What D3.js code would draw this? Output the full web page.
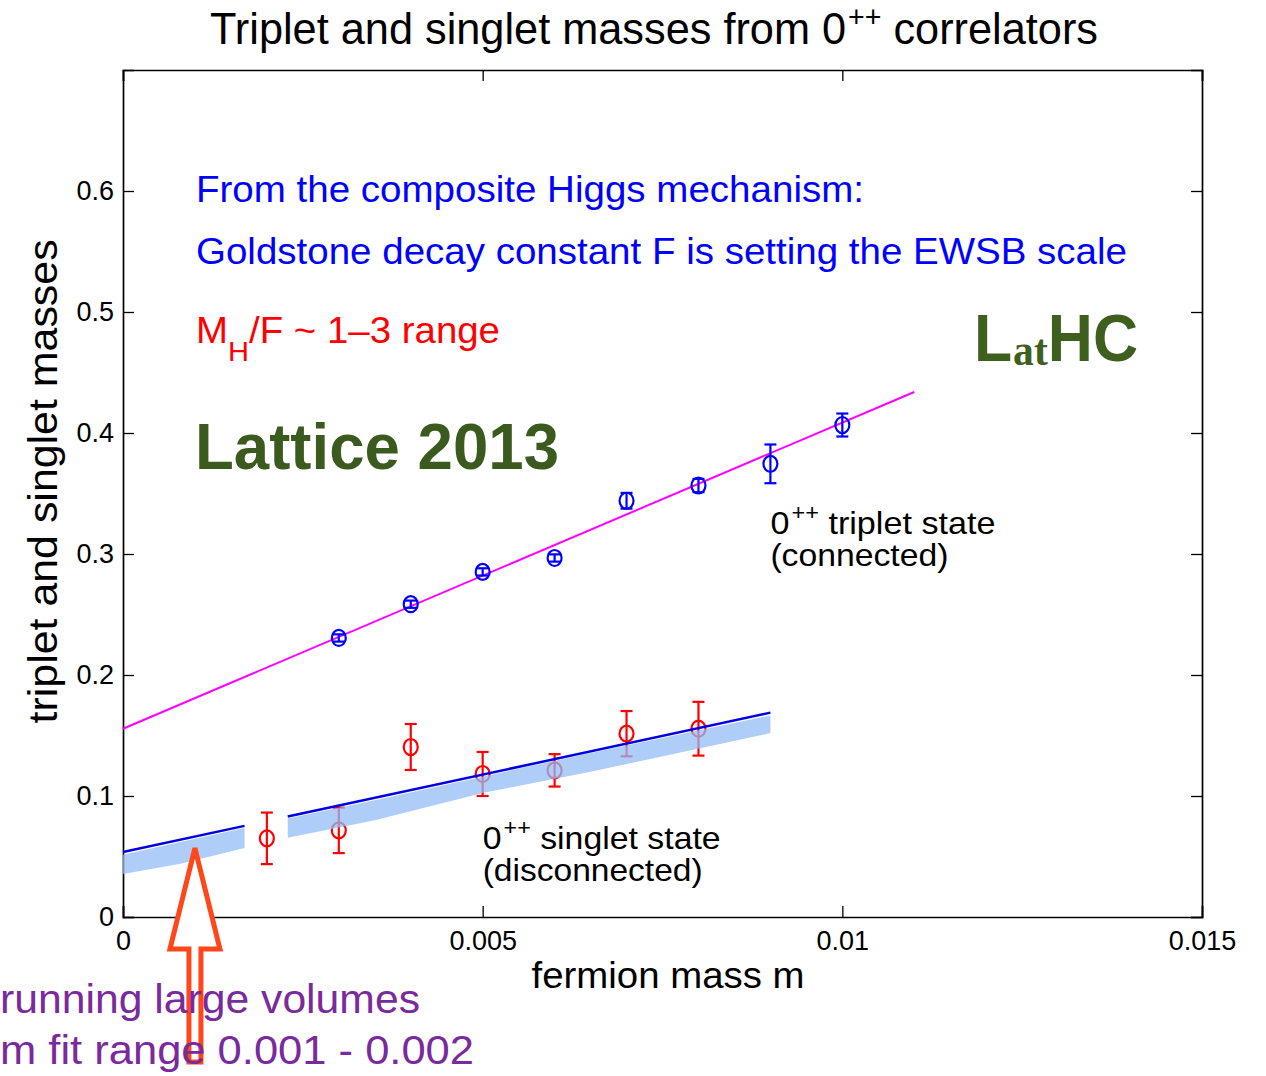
<!DOCTYPE html>
<html>
<head>
<meta charset="utf-8">
<script src="https://cdn.jsdelivr.net/npm/d3@7"></script>
<style>
  body { margin: 0; background: #fff; }
  svg { display: block; }
  text { font-family: "Liberation Sans", Arial, sans-serif; }
</style>
</head>
<body>
<div id="chart"></div>
<script>
// fermion mass values
const tripletM = [0.003, 0.004, 0.005, 0.006, 0.007, 0.008, 0.009, 0.010];
const tripletMass = [0.2306, 0.2585, 0.2852, 0.2967, 0.3440, 0.3566, 0.3745, 0.4066];
const tripletErr = [0.003, 0.003, 0.003, 0.003, 0.0065, 0.0055, 0.016, 0.0095];

const singletM = [0.002, 0.003, 0.004, 0.005, 0.006, 0.007, 0.008];
const singletMass = [0.0650, 0.0716, 0.1405, 0.1182, 0.1212, 0.1515, 0.1556];
const singletErr = [0.0213, 0.0188, 0.019, 0.0182, 0.0134, 0.0187, 0.0222];

// linear fits (end points)
const tripletFitM = [0, 0.011];
const tripletFitY = [0.1556, 0.4339];
const singletFitM = [[0, 0.00169], [0.00229, 0.009]];
const singletFitY = [[0.0537, 0.0753], [0.0830, 0.1689]];
// light blue band of fits below the singlet line
const bandM = [[0, 0.0008, 0.00169], [0.00229, 0.0035, 0.005, 0.0065, 0.009]];
const bandUpper = [[0.0515, 0.0620, 0.0735], [0.0815, 0.0965, 0.1160, 0.1355, 0.1665]];
const bandLower = [[0.0355, 0.0440, 0.0570], [0.0655, 0.0800, 0.1025, 0.1200, 0.1520]];

const xTicks = [0, 0.005, 0.01, 0.015];
const xTickLabels = ['0', '0.005', '0.01', '0.015'];
const yTicks = [0, 0.1, 0.2, 0.3, 0.4, 0.5, 0.6];
const yTickLabels = ['0', '0.1', '0.2', '0.3', '0.4', '0.5', '0.6'];

const width = 1266, height = 1076;
const svg = d3.select('#chart').append('svg')
    .attr('width', width)
    .attr('height', height);

const x = d3.scaleLinear().domain([0, 0.015]).range([123, 1202]);
const y = d3.scaleLinear().domain([0, 0.7]).range([917, 70]);

// title
const title = svg.append('text')
    .attr('x', 210).attr('y', 44)
    .attr('font-size', 44)
    .attr('textLength', 888).attr('lengthAdjust', 'spacingAndGlyphs')
    .attr('fill', '#000');
title.append('tspan').text('Triplet and singlet masses from 0');
title.append('tspan').attr('dx', 2).attr('dy', -17).attr('font-size', 29).text('++');
title.append('tspan').attr('dy', 17).text(' correlators');

// axes box with inward ticks
const tickLen = 11;
const axisG = svg.append('g');
axisG.append('g')
    .attr('transform', `translate(0,${y(0)})`)
    .call(d3.axisBottom(x).tickValues(xTicks).tickSize(-tickLen).tickFormat((d, i) => xTickLabels[i]).tickPadding(14));
axisG.append('g')
    .attr('transform', `translate(0,${y(0.7)})`)
    .call(d3.axisTop(x).tickValues(xTicks).tickSize(-tickLen).tickFormat(''));
axisG.append('g')
    .attr('transform', `translate(${x(0)},0)`)
    .call(d3.axisLeft(y).tickValues(yTicks).tickSize(-tickLen).tickFormat((d, i) => yTickLabels[i]).tickPadding(9));
axisG.append('g')
    .attr('transform', `translate(${x(0.015)},0)`)
    .call(d3.axisRight(y).tickValues(yTicks).tickSize(-tickLen).tickFormat(''));
axisG.selectAll('.domain').attr('stroke', '#000').attr('stroke-width', 1.7);
axisG.selectAll('.tick line').attr('stroke', '#000').attr('stroke-width', 1.3);
axisG.selectAll('.tick text')
    .attr('font-family', '"Liberation Sans", Arial, sans-serif')
    .attr('font-size', 27)
    .attr('fill', '#000');

// axis labels
svg.append('text')
    .attr('x', 668).attr('y', 988)
    .attr('text-anchor', 'middle')
    .attr('font-size', 37)
    .attr('textLength', 273).attr('lengthAdjust', 'spacingAndGlyphs')
    .text('fermion mass m');
svg.append('text')
    .attr('transform', `translate(57,${y(0.36)}) rotate(-90)`)
    .attr('text-anchor', 'middle')
    .attr('font-size', 40)
    .attr('textLength', 484).attr('lengthAdjust', 'spacingAndGlyphs')
    .text('triplet and singlet masses');

// triplet fit line
svg.append('line')
    .attr('x1', x(tripletFitM[0])).attr('y1', y(tripletFitY[0]))
    .attr('x2', x(tripletFitM[1])).attr('y2', y(tripletFitY[1]))
    .attr('stroke', '#ff00ff')
    .attr('stroke-width', 2);

// error bar helper
const drawPoints = (ms, vals, errs, color) => {
    const g = svg.append('g').attr('stroke', color).attr('fill', 'none').attr('stroke-width', 2.2);
    const pts = g.selectAll('g').data(ms).join('g');
    pts.append('line')
        .attr('x1', d => x(d)).attr('x2', d => x(d))
        .attr('y1', (d, i) => y(vals[i] - errs[i]))
        .attr('y2', (d, i) => y(vals[i] + errs[i]));
    pts.append('line')
        .attr('x1', d => x(d) - 6).attr('x2', d => x(d) + 6)
        .attr('y1', (d, i) => y(vals[i] - errs[i]))
        .attr('y2', (d, i) => y(vals[i] - errs[i]));
    pts.append('line')
        .attr('x1', d => x(d) - 6).attr('x2', d => x(d) + 6)
        .attr('y1', (d, i) => y(vals[i] + errs[i]))
        .attr('y2', (d, i) => y(vals[i] + errs[i]));
    pts.append('ellipse')
        .attr('cx', d => x(d))
        .attr('cy', (d, i) => y(vals[i]))
        .attr('rx', 7).attr('ry', 8);
};

drawPoints(tripletM, tripletMass, tripletErr, '#0000ff');
drawPoints(singletM, singletMass, singletErr, '#ff0000');

// band
const area = d3.area()
    .x(d => x(d.m))
    .y0(d => y(d.lo))
    .y1(d => y(d.hi));
bandM.forEach((seg, s) => {
    const pts = seg.map((m, i) => ({ m, lo: bandLower[s][i], hi: bandUpper[s][i] }));
    svg.append('path')
        .attr('d', area(pts))
        .attr('fill', '#93bcf5')
        .attr('fill-opacity', 0.75);
});

// singlet fit line
singletFitM.forEach((seg, s) => {
    svg.append('line')
        .attr('x1', x(seg[0])).attr('y1', y(singletFitY[s][0]))
        .attr('x2', x(seg[1])).attr('y2', y(singletFitY[s][1]))
        .attr('stroke', '#0000e0')
        .attr('stroke-width', 2.5);
});

// state labels
const stateLabel = (m, v, line1, line2, w1, w2) => {
    const t = svg.append('text').attr('x', x(m)).attr('y', y(v)).attr('font-size', 32)
        .attr('textLength', w1).attr('lengthAdjust', 'spacingAndGlyphs');
    t.append('tspan').text('0');
    t.append('tspan').attr('dx', 2).attr('dy', -14).attr('font-size', 22).text('++');
    t.append('tspan').attr('dy', 14).text(' ' + line1);
    svg.append('text').attr('x', x(m)).attr('y', y(v) + 32).attr('font-size', 32)
        .attr('textLength', w2).attr('lengthAdjust', 'spacingAndGlyphs')
        .text(line2);
};
stateLabel(0.00900, 0.3165, 'triplet state', '(connected)', 225, 178);
stateLabel(0.00500, 0.0565, 'singlet state', '(disconnected)', 238, 220);

// blue / red text
svg.append('text')
    .attr('x', 196).attr('y', 202)
    .attr('font-size', 37).attr('fill', '#0000ff')
    .attr('textLength', 668).attr('lengthAdjust', 'spacingAndGlyphs')
    .text('From the composite Higgs mechanism:');
svg.append('text')
    .attr('x', 196).attr('y', 264)
    .attr('font-size', 37).attr('fill', '#0000ff')
    .attr('textLength', 931).attr('lengthAdjust', 'spacingAndGlyphs')
    .text('Goldstone decay constant F is setting the EWSB scale');
const red = svg.append('text')
    .attr('x', 196).attr('y', 343)
    .attr('font-size', 37).attr('fill', '#ff0000')
    .attr('textLength', 304).attr('lengthAdjust', 'spacingAndGlyphs');
red.append('tspan').text('M');
red.append('tspan').attr('dy', 18).attr('font-size', 28).text('H');
red.append('tspan').attr('dy', -18).text('/F ~ 1\u20133 range');

// Lattice 2013
svg.append('text')
    .attr('x', 195).attr('y', 469)
    .attr('font-size', 64).attr('font-weight', 'bold')
    .attr('fill', '#3b5a1e')
    .attr('textLength', 364).attr('lengthAdjust', 'spacingAndGlyphs')
    .text('Lattice 2013');

// LatHC logo
const logo = svg.append('text')
    .attr('x', 974).attr('y', 361)
    .attr('fill', '#3f5f1f')
    .attr('font-family', 'Lato, "Open Sans", sans-serif')
    .attr('font-size', 66)
    .attr('textLength', 164).attr('lengthAdjust', 'spacingAndGlyphs');
logo.append('tspan').attr('font-weight', 'bold').text('L');
logo.append('tspan').attr('dx', 1).attr('dy', 4).attr('font-size', 44)
    .attr('font-family', '"Liberation Serif", serif').attr('font-weight', 'bold').text('at');
logo.append('tspan').attr('dy', -4).attr('font-weight', 'bold').text('HC');

// arrow pointing at the small-mass band
const tipX = x(0.001), tipY = y(0.057);
const arrowPath = d3.path();
arrowPath.moveTo(tipX, tipY);
arrowPath.lineTo(tipX + 25, tipY + 101);
arrowPath.lineTo(tipX + 6, tipY + 101);
arrowPath.lineTo(tipX + 6, tipY + 214);
arrowPath.lineTo(tipX - 6, tipY + 214);
arrowPath.lineTo(tipX - 6, tipY + 101);
arrowPath.lineTo(tipX - 25, tipY + 101);
arrowPath.closePath();
svg.append('path')
    .attr('d', arrowPath.toString())
    .attr('fill', '#fff')
    .attr('stroke', '#ff4719')
    .attr('stroke-width', 5)
    .attr('stroke-linejoin', 'miter');

// purple text at the bottom (drawn over the arrow shaft)
svg.append('text')
    .attr('x', 0).attr('y', 1013)
    .attr('font-family', 'Lato, sans-serif')
    .attr('font-size', 41).attr('fill', '#7a2a9c')
    .attr('textLength', 420).attr('lengthAdjust', 'spacingAndGlyphs')
    .text('running large volumes');
svg.append('text')
    .attr('x', 0).attr('y', 1064)
    .attr('font-family', 'Lato, sans-serif')
    .attr('font-size', 41).attr('fill', '#7a2a9c')
    .attr('textLength', 474).attr('lengthAdjust', 'spacingAndGlyphs')
    .text('m fit range 0.001 - 0.002');
</script>
</body>
</html>
